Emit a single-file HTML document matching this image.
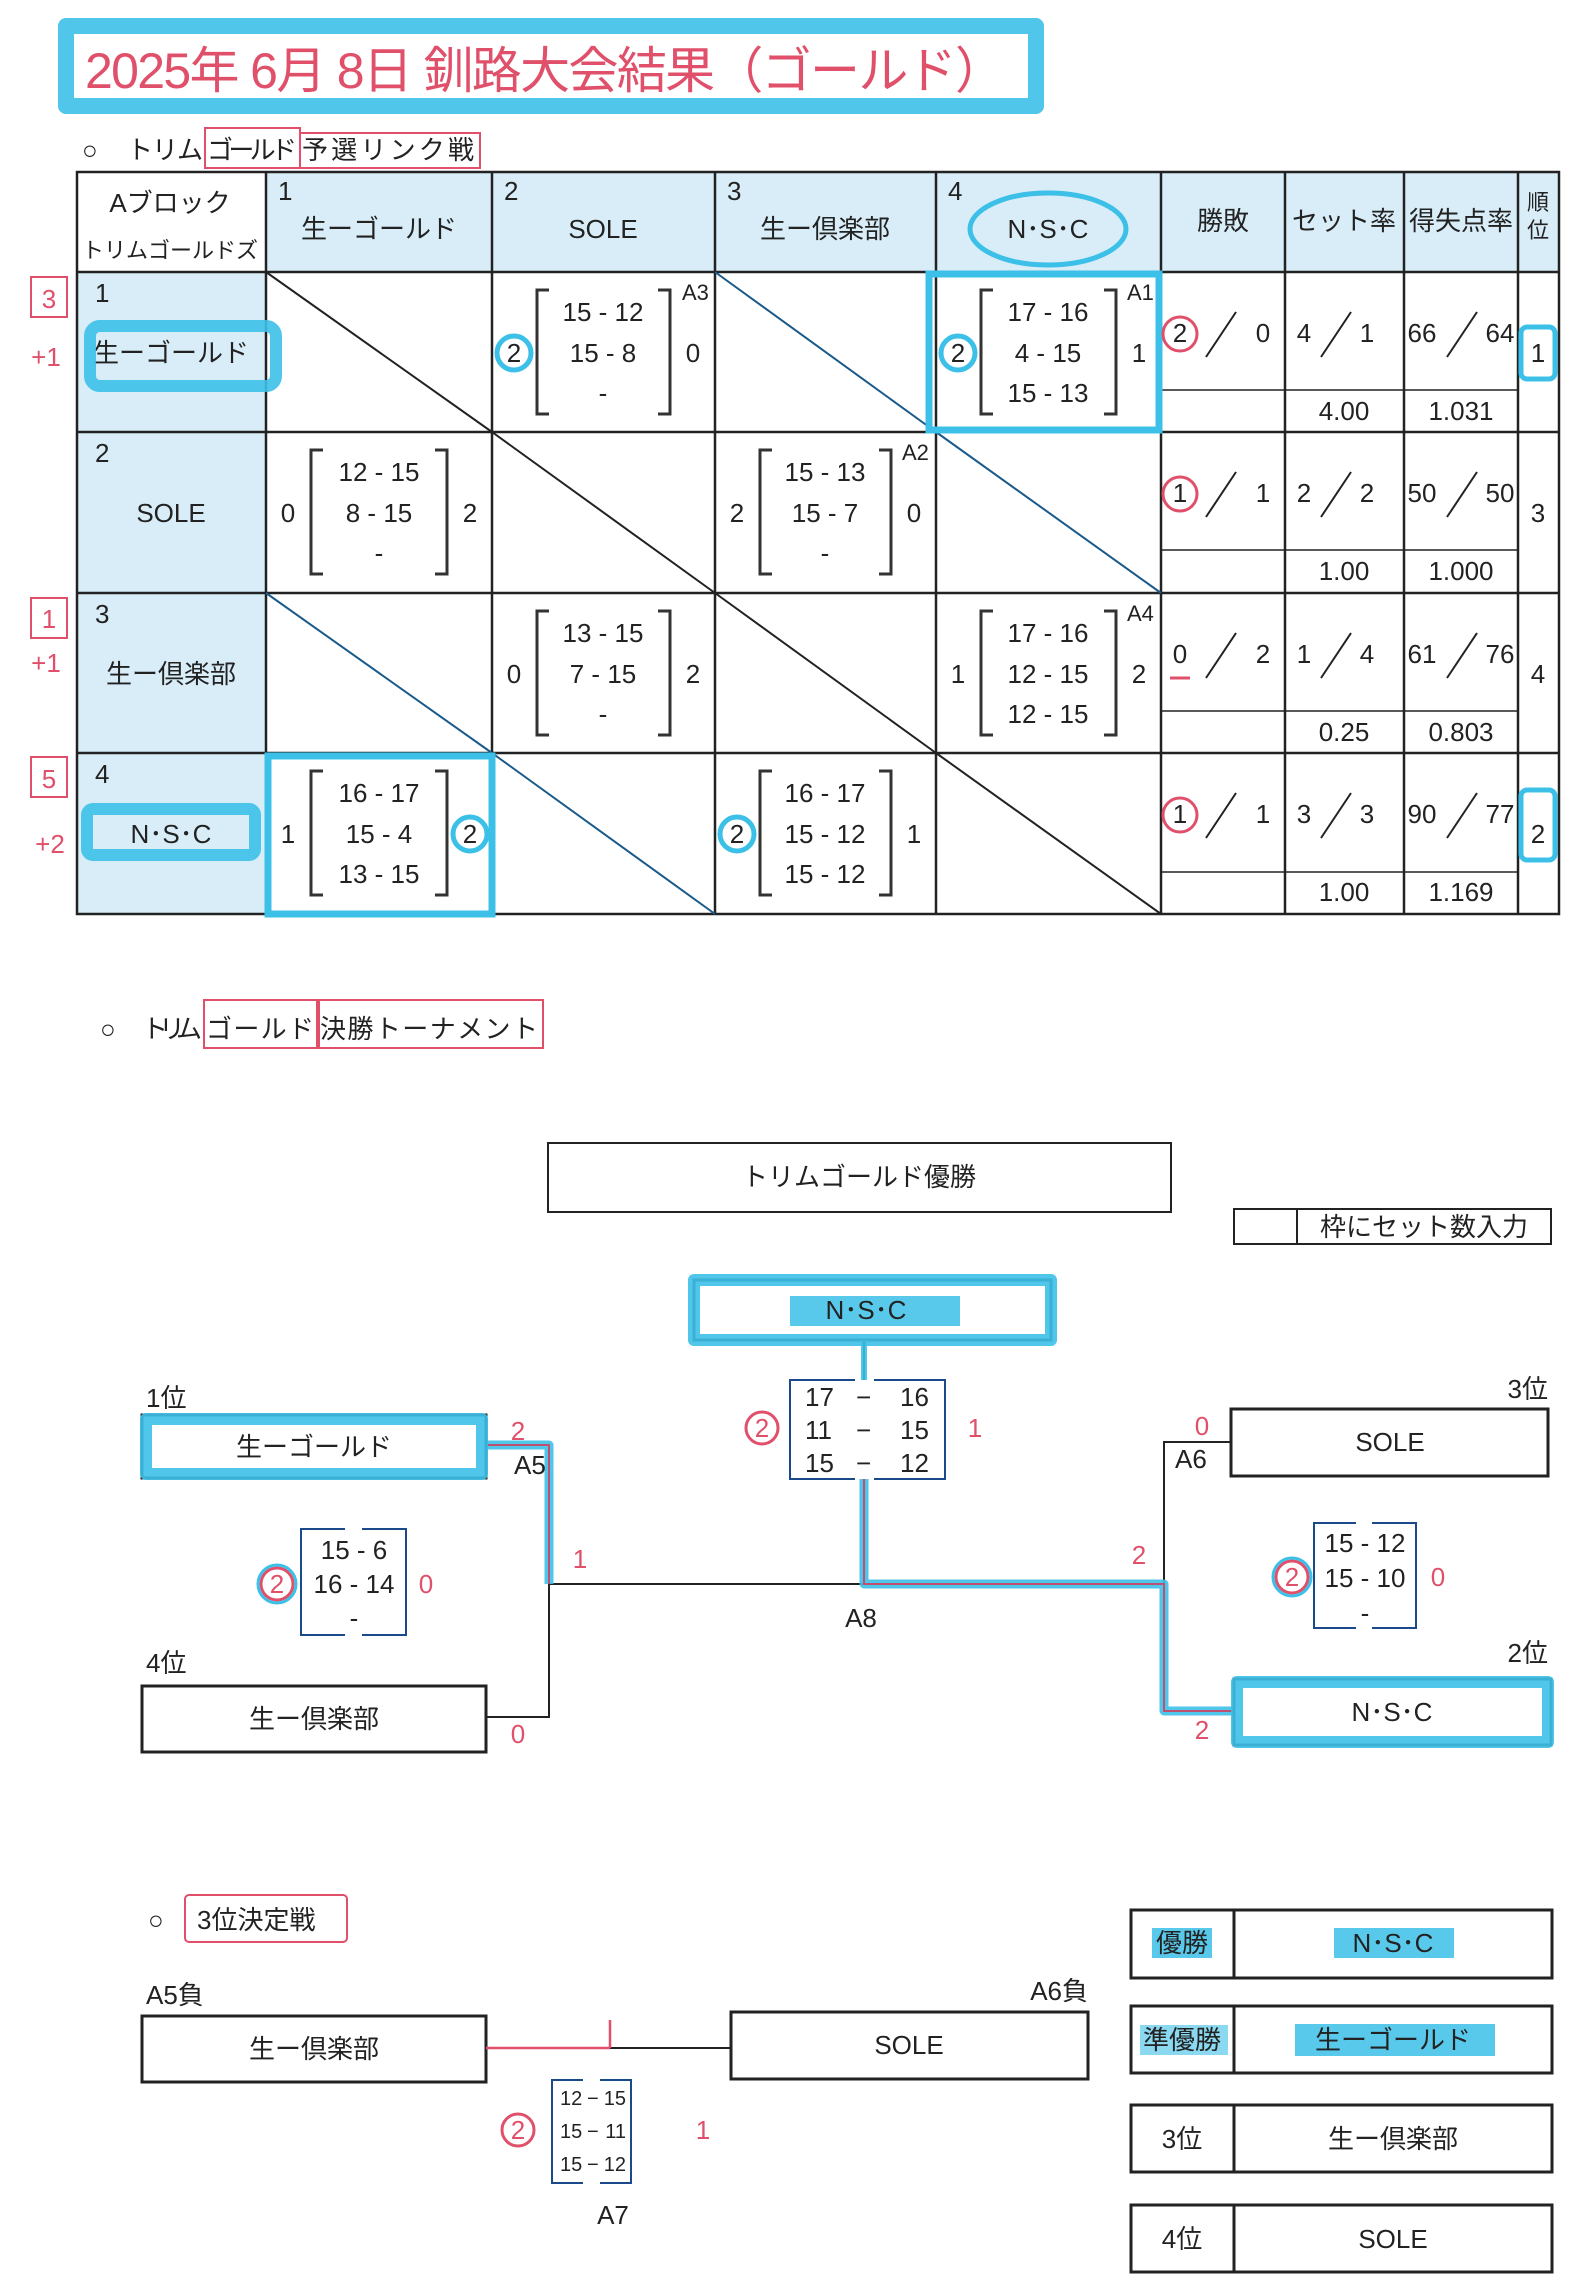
<!DOCTYPE html>
<html><head><meta charset="utf-8"><style>
html,body{margin:0;padding:0;background:#fff}
svg{display:block}
text{font-family:"Liberation Sans","Noto Sans CJK JP",sans-serif;fill:#222}
.t{font-size:26px}
.s{font-size:22px}
.c{text-anchor:middle}
text.r{fill:#e0506a}
.ln{stroke:#222;stroke-width:2;fill:none}
.br{stroke:#333;stroke-width:3;fill:none}
.hl{stroke:#3cc0e8;stroke-width:12;fill:none;stroke-linejoin:round;opacity:.9}
.hc{stroke:#3cc0e8;stroke-width:5;fill:none}
.rc{stroke:#e0506a;stroke-width:3;fill:none}
</style></head><body>
<svg width="1587" height="2281" viewBox="0 0 1587 2281" xmlns="http://www.w3.org/2000/svg">
<!-- title -->
<rect x="66" y="26" width="970" height="80" class="hl" style="stroke-width:16"/>
<text x="85" y="88" style="font-size:50px;fill:#e0506a" textLength="920">2025年 6月 8日  釧路大会結果（ゴールド）</text>
<!-- section 1 -->
<text x="82" y="159" class="t">○</text>
<text x="127" y="159" class="t" textLength="76">トリム</text>
<text x="207" y="159" class="t" textLength="90">ゴールド</text>
<text x="302" y="159" class="t" textLength="172">予選リンク戦</text>
<rect x="205" y="128" width="95" height="40" class="rc" style="stroke-width:2"/>
<rect x="300" y="133" width="180" height="35" class="rc" style="stroke-width:2"/>
<!-- table fills -->
<rect x="77" y="172" width="1482" height="100" fill="#d8edf8"/>
<rect x="77" y="272" width="189" height="642" fill="#d8edf8"/>
<rect x="77" y="172" width="189" height="100" fill="#fff"/>
<!-- grid -->
<g class="ln" style="stroke-width:2.5">
<rect x="77" y="172" width="1482" height="742"/>
<line x1="266" y1="172" x2="266" y2="914"/><line x1="492" y1="172" x2="492" y2="914"/>
<line x1="715" y1="172" x2="715" y2="914"/><line x1="936" y1="172" x2="936" y2="914"/>
<line x1="1161" y1="172" x2="1161" y2="914"/><line x1="1285" y1="172" x2="1285" y2="914"/>
<line x1="1404" y1="172" x2="1404" y2="914"/><line x1="1518" y1="172" x2="1518" y2="914"/>
<line x1="77" y1="272" x2="1559" y2="272"/><line x1="77" y1="432" x2="1559" y2="432"/>
<line x1="77" y1="593" x2="1559" y2="593"/><line x1="77" y1="753" x2="1559" y2="753"/>
</g>
<g class="ln" style="stroke-width:1.5">
<line x1="1161" y1="390" x2="1518" y2="390"/><line x1="1161" y1="550" x2="1518" y2="550"/>
<line x1="1161" y1="711" x2="1518" y2="711"/><line x1="1161" y1="872" x2="1518" y2="872"/>
</g>
<!-- diagonals -->
<g class="ln">
<line x1="266" y1="272" x2="492" y2="432"/><line x1="492" y1="432" x2="715" y2="593"/>
<line x1="715" y1="593" x2="936" y2="753"/><line x1="936" y1="753" x2="1161" y2="914"/>
<line x1="715" y1="272" x2="936" y2="432" stroke="#1a5a8a"/><line x1="936" y1="432" x2="1161" y2="593" stroke="#1a5a8a"/>
<line x1="266" y1="593" x2="492" y2="753" stroke="#1a5a8a"/><line x1="492" y1="753" x2="715" y2="914" stroke="#1a5a8a"/>
</g>
<!-- headers -->
<text x="170" y="212" class="t c">Aブロック</text>
<text x="170" y="258" class="s c">トリムゴールドズ</text>
<text x="278" y="200" class="t">1</text><text x="379" y="238" class="t c">生ーゴールド</text>
<text x="504" y="200" class="t">2</text><text x="603" y="238" class="t c">SOLE</text>
<text x="727" y="200" class="t">3</text><text x="825" y="238" class="t c">生ー倶楽部</text>
<text x="948" y="200" class="t">4</text><text x="1048" y="238" class="t c">N･S･C</text>
<text x="1223" y="230" class="t c">勝敗</text>
<text x="1344" y="230" class="t c">セット率</text>
<text x="1461" y="230" class="t c">得失点率</text>
<text x="1538" y="210" class="s c">順</text><text x="1538" y="238" class="s c">位</text>
<!-- row labels -->
<text x="95" y="302" class="t">1</text><text x="171" y="362" class="t c">生ーゴールド</text>
<text x="95" y="462" class="t">2</text><text x="171" y="522" class="t c">SOLE</text>
<text x="95" y="623" class="t">3</text><text x="171" y="683" class="t c">生ー倶楽部</text>
<text x="95" y="783" class="t">4</text><text x="171" y="843" class="t c">N･S･C</text>
<!-- score cells -->
<g class="br">
<path d="M549 290 H537 V414 H549"/><path d="M658 290 H670 V414 H658"/>
<path d="M993 290 H981 V414 H993"/><path d="M1104 290 H1116 V414 H1104"/>
<path d="M323 450 H311 V574 H323"/><path d="M435 450 H447 V574 H435"/>
<path d="M772 450 H760 V574 H772"/><path d="M879 450 H891 V574 H879"/>
<path d="M549 611 H537 V735 H549"/><path d="M658 611 H670 V735 H658"/>
<path d="M993 611 H981 V735 H993"/><path d="M1104 611 H1116 V735 H1104"/>
<path d="M323 771 H311 V895 H323"/><path d="M435 771 H447 V895 H435"/>
<path d="M772 771 H760 V895 H772"/><path d="M879 771 H891 V895 H879"/>
</g>
<g class="t c">
<text x="603" y="321">15 - 12</text><text x="603" y="362">15 -  8</text><text x="603" y="402">-</text>
<text x="514" y="362">2</text><text x="693" y="362">0</text>
<text x="1048" y="321">17 - 16</text><text x="1048" y="362">4 - 15</text><text x="1048" y="402">15 - 13</text>
<text x="958" y="362">2</text><text x="1139" y="362">1</text>
<text x="379" y="481">12 - 15</text><text x="379" y="522">8 - 15</text><text x="379" y="562">-</text>
<text x="288" y="522">0</text><text x="470" y="522">2</text>
<text x="825" y="481">15 - 13</text><text x="825" y="522">15 -  7</text><text x="825" y="562">-</text>
<text x="737" y="522">2</text><text x="914" y="522">0</text>
<text x="603" y="642">13 - 15</text><text x="603" y="683">7 - 15</text><text x="603" y="723">-</text>
<text x="514" y="683">0</text><text x="693" y="683">2</text>
<text x="1048" y="642">17 - 16</text><text x="1048" y="683">12 - 15</text><text x="1048" y="723">12 - 15</text>
<text x="958" y="683">1</text><text x="1139" y="683">2</text>
<text x="379" y="802">16 - 17</text><text x="379" y="843">15 -  4</text><text x="379" y="883">13 - 15</text>
<text x="288" y="843">1</text><text x="470" y="843">2</text>
<text x="825" y="802">16 - 17</text><text x="825" y="843">15 - 12</text><text x="825" y="883">15 - 12</text>
<text x="737" y="843">2</text><text x="914" y="843">1</text>
</g>
<g class="s">
<text x="682" y="300">A3</text><text x="1127" y="300">A1</text><text x="902" y="460">A2</text><text x="1127" y="621">A4</text>
</g>
<!-- stats -->
<g class="t c">
<text x="1180" y="342">2</text><text x="1263" y="342">0</text><text x="1304" y="342">4</text><text x="1367" y="342">1</text><text x="1422" y="342">66</text><text x="1500" y="342">64</text><text x="1538" y="362">1</text>
<text x="1344" y="420">4.00</text><text x="1461" y="420">1.031</text>
<text x="1180" y="502">1</text><text x="1263" y="502">1</text><text x="1304" y="502">2</text><text x="1367" y="502">2</text><text x="1422" y="502">50</text><text x="1500" y="502">50</text><text x="1538" y="522">3</text>
<text x="1344" y="580">1.00</text><text x="1461" y="580">1.000</text>
<text x="1180" y="663">0</text><text x="1263" y="663">2</text><text x="1304" y="663">1</text><text x="1367" y="663">4</text><text x="1422" y="663">61</text><text x="1500" y="663">76</text><text x="1538" y="683">4</text>
<text x="1344" y="741">0.25</text><text x="1461" y="741">0.803</text>
<text x="1180" y="823">1</text><text x="1263" y="823">1</text><text x="1304" y="823">3</text><text x="1367" y="823">3</text><text x="1422" y="823">90</text><text x="1500" y="823">77</text><text x="1538" y="843">2</text>
<text x="1344" y="901">1.00</text><text x="1461" y="901">1.169</text>
</g>
<g class="ln">
<line x1="1206" y1="357" x2="1236" y2="312"/><line x1="1321" y1="357" x2="1351" y2="312"/><line x1="1447" y1="357" x2="1477" y2="312"/>
<line x1="1206" y1="517" x2="1236" y2="472"/><line x1="1321" y1="517" x2="1351" y2="472"/><line x1="1447" y1="517" x2="1477" y2="472"/>
<line x1="1206" y1="678" x2="1236" y2="633"/><line x1="1321" y1="678" x2="1351" y2="633"/><line x1="1447" y1="678" x2="1477" y2="633"/>
<line x1="1206" y1="838" x2="1236" y2="793"/><line x1="1321" y1="838" x2="1351" y2="793"/><line x1="1447" y1="838" x2="1477" y2="793"/>
</g>
<!-- highlights table -->
<rect x="90" y="326" width="186" height="60" rx="10" class="hl"/>
<ellipse cx="1048" cy="229" rx="78" ry="36" class="hc"/>
<rect x="87" y="809" width="168" height="46" rx="6" class="hl"/>
<rect x="929" y="274" width="230" height="156" class="hc" style="stroke-width:7"/>
<rect x="268" y="756" width="224" height="158" class="hc" style="stroke-width:7"/>
<rect x="1521" y="327" width="34" height="52" rx="6" class="hc"/>
<rect x="1521" y="790" width="34" height="70" rx="6" class="hc"/>
<circle cx="514" cy="353" r="17" class="hc"/><circle cx="958" cy="353" r="17" class="hc"/>
<circle cx="470" cy="834" r="17" class="hc"/><circle cx="737" cy="834" r="17" class="hc"/>
<circle cx="1180" cy="334" r="17" class="rc"/><circle cx="1180" cy="494" r="17" class="rc"/><circle cx="1180" cy="815" r="17" class="rc"/>
<line x1="1170" y1="678" x2="1190" y2="678" class="rc"/>
<!-- red left annotations -->
<rect x="31" y="277" width="36" height="40" class="rc" style="stroke-width:2"/><text x="49" y="308" class="t c r">3</text>
<text x="46" y="366" class="t c r">+1</text>
<rect x="31" y="598" width="36" height="40" class="rc" style="stroke-width:2"/><text x="49" y="628" class="t c r">1</text>
<text x="46" y="672" class="t c r">+1</text>
<rect x="31" y="757" width="36" height="40" class="rc" style="stroke-width:2"/><text x="49" y="788" class="t c r">5</text>
<text x="50" y="853" class="t c r">+2</text>
<!-- section 2 -->
<text x="100" y="1038" class="t">○</text>
<text x="142" y="1038" class="t" textLength="60">トリム</text>
<text x="206" y="1038" class="t" textLength="108">ゴールド</text>
<text x="320" y="1038" class="t" textLength="218">決勝トーナメント</text>
<rect x="204" y="1000" width="115" height="48" class="rc" style="stroke-width:2"/>
<rect x="317" y="1000" width="226" height="48" class="rc" style="stroke-width:2"/>
<rect x="548" y="1143" width="623" height="69" class="ln"/>
<text x="859" y="1186" class="t c">トリムゴールド優勝</text>
<rect x="1234" y="1209" width="317" height="35" class="ln"/><line x1="1297" y1="1209" x2="1297" y2="1244" class="ln"/>
<text x="1424" y="1236" class="t c">枠にセット数入力</text>
<!-- final box -->
<rect x="694" y="1280" width="357" height="60" class="ln" style="stroke-width:3"/>
<rect x="694" y="1280" width="357" height="60" class="hl"/>
<rect x="790" y="1296" width="170" height="30" fill="#3cc0e8" opacity=".85"/>
<text x="866" y="1319" class="t c">N･S･C</text>
<!-- bracket lines -->
<g class="ln">
<path d="M486 1445 H549 V1717 H486"/>
<path d="M549 1584 H1164"/>
<path d="M1231 1442 H1164 V1711 H1234"/>
<path d="M864 1340 V1380 M864 1479 V1584"/>
</g>
<path d="M486 1445 H549 V1584" class="hl" style="stroke-width:9"/>
<path d="M864 1479 V1584 H1164 V1711 H1234" class="hl" style="stroke-width:9"/>
<path d="M864 1340 V1380" class="hl" style="stroke-width:6"/>
<path d="M486 1445 H549 V1584" stroke="#c05070" stroke-width="2" fill="none"/>
<path d="M864 1479 V1584 H1164 V1711 H1234" stroke="#c05070" stroke-width="2" fill="none"/>
<!-- team boxes -->
<rect x="142" y="1415" width="344" height="63" class="ln" style="stroke-width:3"/>
<rect x="146" y="1419" width="336" height="55" class="hl"/>
<text x="314" y="1456" class="t c">生ーゴールド</text>
<text x="146" y="1407" class="t">1位</text>
<rect x="142" y="1686" width="344" height="66" class="ln" style="stroke-width:3"/>
<text x="314" y="1728" class="t c">生ー倶楽部</text>
<text x="146" y="1672" class="t">4位</text>
<rect x="1231" y="1409" width="317" height="67" class="ln" style="stroke-width:3"/>
<text x="1390" y="1451" class="t c">SOLE</text>
<text x="1548" y="1398" class="t" text-anchor="end">3位</text>
<rect x="1234" y="1679" width="317" height="66" class="ln" style="stroke-width:3"/>
<rect x="1237" y="1682" width="311" height="60" class="hl"/>
<text x="1392" y="1721" class="t c">N･S･C</text>
<text x="1548" y="1662" class="t" text-anchor="end">2位</text>
<text x="514" y="1474" class="t">A5</text>
<text x="1175" y="1468" class="t">A6</text>
<text x="861" y="1627" class="t c">A8</text>
<!-- score boxes bracket -->
<g class="ln" style="stroke:#1a4a8a">
<path d="M855 1380 H790 V1479 H855 M874 1380 H945 V1479 H874"/>
<path d="M345 1529 H301 V1635 H345 M362 1529 H406 V1635 H362"/>
<path d="M1356 1523 H1314 V1628 H1356 M1372 1523 H1416 V1628 H1372"/>
<path d="M583 2080 H552 V2183 H583 M600 2080 H631 V2183 H600"/>
</g>
<g class="t">
<text x="805" y="1406">17</text><text x="856" y="1406">−</text><text x="900" y="1406">16</text>
<text x="805" y="1439">11</text><text x="856" y="1439">−</text><text x="900" y="1439">15</text>
<text x="805" y="1472">15</text><text x="856" y="1472">−</text><text x="900" y="1472">12</text>
</g>
<circle cx="762" cy="1428" r="16" class="rc"/><text x="762" y="1437" class="t c r">2</text>
<text x="975" y="1437" class="t c r">1</text>
<g class="t c">
<text x="354" y="1559">15 -  6</text><text x="354" y="1593">16 - 14</text><text x="354" y="1627">-</text>
<text x="1365" y="1552">15 - 12</text><text x="1365" y="1587">15 - 10</text><text x="1365" y="1622">-</text>
</g>
<circle cx="277" cy="1584" r="16" class="rc"/><circle cx="277" cy="1584" r="19" class="hc" style="stroke-width:3"/><text x="277" y="1593" class="t c r">2</text>
<text x="426" y="1593" class="t c r">0</text>
<circle cx="1292" cy="1577" r="16" class="rc"/><circle cx="1292" cy="1577" r="19" class="hc" style="stroke-width:3"/><text x="1292" y="1586" class="t c r">2</text>
<text x="1438" y="1586" class="t c r">0</text>
<text x="518" y="1440" class="t c r">2</text><text x="580" y="1568" class="t c r">1</text><text x="518" y="1743" class="t c r">0</text>
<text x="1202" y="1435" class="t c r">0</text><text x="1139" y="1564" class="t c r">2</text><text x="1202" y="1739" class="t c r">2</text>
<!-- 3rd place -->
<text x="148" y="1929" class="t">○</text><text x="197" y="1929" class="t">3位決定戦</text>
<rect x="185" y="1895" width="162" height="47" rx="4" class="rc" style="stroke-width:2"/>
<text x="146" y="2004" class="t">A5負</text>
<text x="1088" y="2000" class="t" text-anchor="end">A6負</text>
<rect x="142" y="2016" width="344" height="66" class="ln" style="stroke-width:3"/>
<text x="314" y="2058" class="t c">生ー倶楽部</text>
<rect x="731" y="2012" width="357" height="67" class="ln" style="stroke-width:3"/>
<text x="909" y="2054" class="t c">SOLE</text>
<line x1="486" y1="2048" x2="610" y2="2048" stroke="#e0506a" stroke-width="2.5"/>
<line x1="610" y1="2048" x2="731" y2="2048" class="ln"/>
<line x1="610" y1="2020" x2="610" y2="2048" stroke="#e0506a" stroke-width="2.5"/>
<g style="font-size:20px">
<text x="560" y="2105">12</text><text x="587" y="2105">−</text><text x="626" y="2105" text-anchor="end">15</text>
<text x="560" y="2138">15</text><text x="587" y="2138">−</text><text x="626" y="2138" text-anchor="end">11</text>
<text x="560" y="2171">15</text><text x="587" y="2171">−</text><text x="626" y="2171" text-anchor="end">12</text>
</g>
<circle cx="518" cy="2130" r="16" class="rc"/><text x="518" y="2139" class="t c r">2</text>
<text x="703" y="2139" class="t c r">1</text>
<text x="613" y="2224" class="t c">A7</text>
<!-- results -->
<g class="ln" style="stroke-width:3">
<rect x="1131" y="1910" width="421" height="68"/><line x1="1234" y1="1910" x2="1234" y2="1978"/>
<rect x="1131" y="2006" width="421" height="67"/><line x1="1234" y1="2006" x2="1234" y2="2073"/>
<rect x="1131" y="2105" width="421" height="67"/><line x1="1234" y1="2105" x2="1234" y2="2172"/>
<rect x="1131" y="2205" width="421" height="67"/><line x1="1234" y1="2205" x2="1234" y2="2272"/>
</g>
<rect x="1152" y="1928" width="60" height="30" fill="#3cc0e8" opacity=".85"/>
<rect x="1334" y="1928" width="120" height="30" fill="#3cc0e8" opacity=".85"/>
<rect x="1140" y="2025" width="88" height="30" fill="#3cc0e8" opacity=".6"/>
<rect x="1295" y="2024" width="200" height="32" fill="#3cc0e8" opacity=".85"/>
<g class="t c">
<text x="1182" y="1952">優勝</text><text x="1393" y="1952">N･S･C</text>
<text x="1182" y="2049">準優勝</text><text x="1393" y="2049">生ーゴールド</text>
<text x="1182" y="2148">3位</text><text x="1393" y="2148">生ー倶楽部</text>
<text x="1182" y="2248">4位</text><text x="1393" y="2248">SOLE</text>
</g>
</svg>
</body></html>
